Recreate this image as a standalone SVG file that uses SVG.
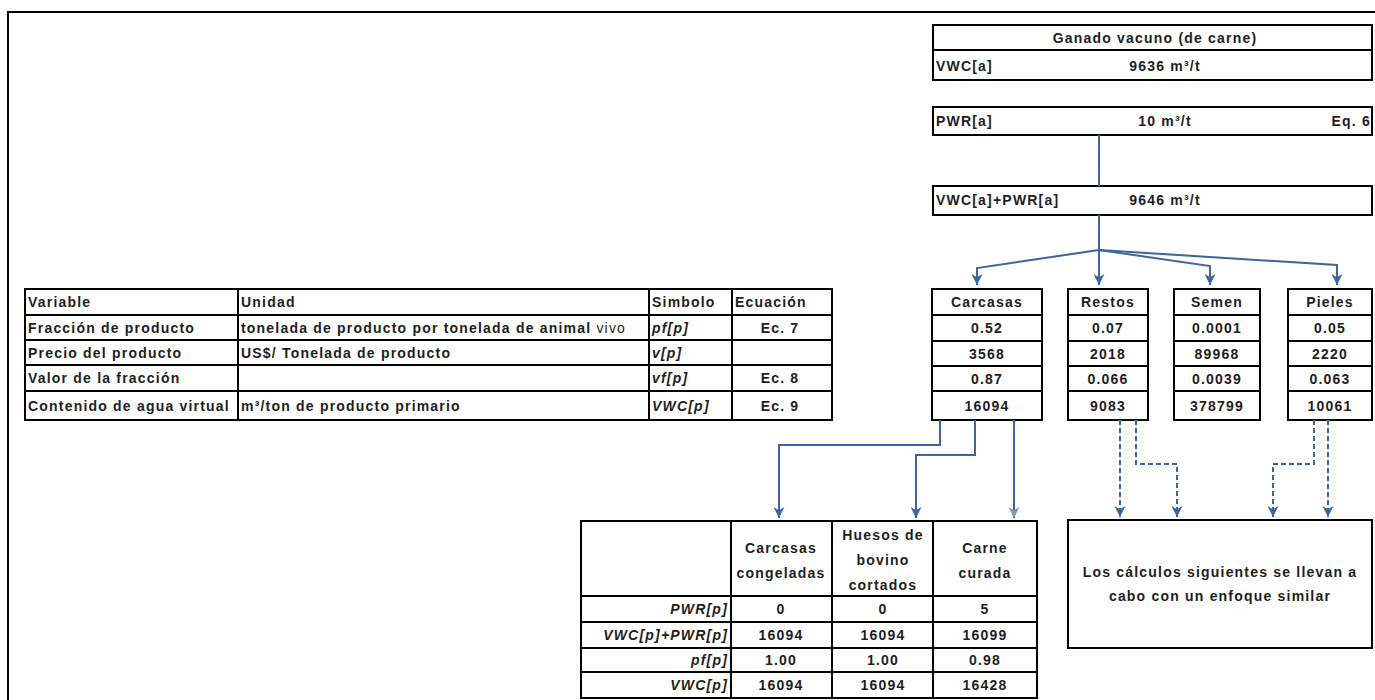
<svg xmlns="http://www.w3.org/2000/svg" width="1375" height="700" viewBox="0 0 1375 700">
<style>
.t{font-family:"Liberation Sans",Arial,sans-serif;font-weight:bold;font-size:14px;letter-spacing:1.2px;fill:#1e1e1e;dominant-baseline:central}
.c{text-anchor:middle}
.r{text-anchor:end}
.i{font-style:italic}
.n{font-weight:normal}
.box{fill:#fff;stroke:#000;stroke-width:2}
.ln{stroke:#000;stroke-width:2;fill:none}
.cn{fill:none;stroke:#3d65a0;stroke-width:2}
.dash{stroke-dasharray:5,3}
</style>
<defs>
<marker id="ah" viewBox="0 0 10 10" refX="10" refY="5" markerWidth="11" markerHeight="11" markerUnits="userSpaceOnUse" orient="auto">
<path d="M0,0 L10,5 L0,10 L3,5 z" fill="#3d65a0"/>
</marker>
<marker id="ah2" viewBox="0 0 10 10" refX="10" refY="5" markerWidth="11" markerHeight="11" markerUnits="userSpaceOnUse" orient="auto">
<path d="M0,0 L10,5 L0,10 L3,5 z" fill="#7f98c0"/>
</marker>
</defs>
<rect width="1375" height="700" fill="#fff"/>
<path class="ln" d="M8,701 V12 H1376"/>

<g id="ganado">
<rect class="box" x="933" y="25" width="439" height="55"/>
<line class="ln" x1="933" y1="50" x2="1372" y2="50"/>
<text class="t c" x="1155" y="38">Ganado vacuno (de carne)</text>
<text class="t" x="936" y="66">VWC[a]</text>
<text class="t c" x="1165" y="66">9636 m³/t</text>
</g>
<g id="pwr">
<rect class="box" x="933" y="107" width="439" height="28"/>
<text class="t" x="936" y="121">PWR[a]</text>
<text class="t c" x="1165" y="121">10 m³/t</text>
<text class="t r" x="1371" y="121">Eq. 6</text>
</g>
<g id="vwcpwr">
<rect class="box" x="933" y="186" width="439" height="29"/>
<text class="t" x="936" y="200">VWC[a]+PWR[a]</text>
<text class="t c" x="1165" y="200">9646 m³/t</text>
</g>

<g id="tabla-variables">
<rect class="box" x="25" y="289" width="807" height="131"/>
<path class="ln" d="M25,315 H832 M25,340 H832 M25,365 H832 M25,391 H832 M238,289 V420 M649,289 V420 M732,289 V420"/>
<text class="t" x="28" y="302">Variable</text>
<text class="t" x="241" y="302">Unidad</text>
<text class="t" x="652" y="302">Simbolo</text>
<text class="t" x="735" y="302">Ecuación</text>
<text class="t" x="28" y="327.5">Fracción de producto</text>
<text class="t" x="241" y="327.5">tonelada de producto por tonelada de animal <tspan class="n">vivo</tspan></text>
<text class="t i" x="652" y="327.5">pf[p]</text>
<text class="t c" x="780" y="327.5">Ec. 7</text>
<text class="t" x="28" y="352.5">Precio del producto</text>
<text class="t" x="241" y="352.5">US$/ Tonelada de producto</text>
<text class="t i" x="652" y="352.5">v[p]</text>
<text class="t" x="28" y="378">Valor de la fracción</text>
<text class="t i" x="652" y="378">vf[p]</text>
<text class="t c" x="780" y="378">Ec. 8</text>
<text class="t" x="28" y="405.5">Contenido de agua virtual</text>
<text class="t" x="241" y="405.5">m³/ton de producto primario</text>
<text class="t i" x="652" y="405.5">VWC[p]</text>
<text class="t c" x="780" y="405.5">Ec. 9</text>
</g>

<g id="carcasas">
<rect class="box" x="932" y="289" width="110" height="131"/>
<path class="ln" d="M932,315 H1042 M932,341 H1042 M932,366 H1042 M932,391 H1042"/>
<text class="t c" x="987" y="302">Carcasas</text>
<text class="t c" x="987" y="328">0.52</text>
<text class="t c" x="987" y="353.5">3568</text>
<text class="t c" x="987" y="378.5">0.87</text>
<text class="t c" x="987" y="405.5">16094</text>
</g>
<g id="restos">
<rect class="box" x="1068" y="289" width="80" height="131"/>
<path class="ln" d="M1068,315 H1148 M1068,341 H1148 M1068,366 H1148 M1068,391 H1148"/>
<text class="t c" x="1108" y="302">Restos</text>
<text class="t c" x="1108" y="328">0.07</text>
<text class="t c" x="1108" y="353.5">2018</text>
<text class="t c" x="1108" y="378.5">0.066</text>
<text class="t c" x="1108" y="405.5">9083</text>
</g>
<g id="semen">
<rect class="box" x="1174" y="289" width="86" height="131"/>
<path class="ln" d="M1174,315 H1260 M1174,341 H1260 M1174,366 H1260 M1174,391 H1260"/>
<text class="t c" x="1217" y="302">Semen</text>
<text class="t c" x="1217" y="328">0.0001</text>
<text class="t c" x="1217" y="353.5">89968</text>
<text class="t c" x="1217" y="378.5">0.0039</text>
<text class="t c" x="1217" y="405.5">378799</text>
</g>
<g id="pieles">
<rect class="box" x="1288" y="289" width="84" height="131"/>
<path class="ln" d="M1288,315 H1372 M1288,341 H1372 M1288,366 H1372 M1288,391 H1372"/>
<text class="t c" x="1330" y="302">Pieles</text>
<text class="t c" x="1330" y="328">0.05</text>
<text class="t c" x="1330" y="353.5">2220</text>
<text class="t c" x="1330" y="378.5">0.063</text>
<text class="t c" x="1330" y="405.5">10061</text>
</g>

<g id="tabla-productos">
<rect class="box" x="581" y="521" width="456" height="177"/>
<path class="ln" d="M581,596 H1037 M581,622 H1037 M581,648 H1037 M581,672 H1037 M731,521 V698 M832,521 V698 M933,521 V698"/>
<text class="t c" x="781" y="548">Carcasas</text>
<text class="t c" x="781" y="573">congeladas</text>
<text class="t c" x="883" y="535">Huesos de</text>
<text class="t c" x="883" y="560">bovino</text>
<text class="t c" x="883" y="585">cortados</text>
<text class="t c" x="985" y="548">Carne</text>
<text class="t c" x="985" y="573">curada</text>
<text class="t i r" x="728" y="609">PWR[p]</text>
<text class="t i r" x="728" y="635">VWC[p]+PWR[p]</text>
<text class="t i r" x="728" y="660">pf[p]</text>
<text class="t i r" x="728" y="685">VWC[p]</text>
<text class="t c" x="781" y="609">0</text>
<text class="t c" x="883" y="609">0</text>
<text class="t c" x="985" y="609">5</text>
<text class="t c" x="781" y="635">16094</text>
<text class="t c" x="883" y="635">16094</text>
<text class="t c" x="985" y="635">16099</text>
<text class="t c" x="781" y="660">1.00</text>
<text class="t c" x="883" y="660">1.00</text>
<text class="t c" x="985" y="660">0.98</text>
<text class="t c" x="781" y="685">16094</text>
<text class="t c" x="883" y="685">16094</text>
<text class="t c" x="985" y="685">16428</text>
</g>

<g id="nota">
<rect class="box" x="1068" y="520" width="304" height="128"/>
<text class="t c" x="1220" y="572">Los cálculos siguientes se llevan a</text>
<text class="t c" x="1220" y="596">cabo con un enfoque similar</text>
</g>

<g id="conectores">
<path class="cn" d="M1099,135 V186"/>
<path class="cn" d="M1099,215 V250"/>
<path class="cn" d="M1099,250 L977,268 V285" marker-end="url(#ah)"/>
<path class="cn" d="M1099,250 V285" marker-end="url(#ah)"/>
<path class="cn" d="M1099,250 L1210,266 V285" marker-end="url(#ah)"/>
<path class="cn" d="M1099,250 L1337,265 V285" marker-end="url(#ah)"/>
<path class="cn" d="M940,420 V445 H779 V518" marker-end="url(#ah)"/>
<path class="cn" d="M975,420 V455 H916 V518" stroke="#5578ad" marker-end="url(#ah)"/>
<path class="cn" d="M1014,420 V518" stroke="#7f98c0" marker-end="url(#ah2)"/>
<path class="cn dash" d="M1120,420 V517" marker-end="url(#ah)"/>
<path class="cn dash" d="M1136,420 V464 H1177 V517" marker-end="url(#ah)"/>
<path class="cn dash" d="M1314,420 V464 H1273 V517" marker-end="url(#ah)"/>
<path class="cn dash" d="M1328,420 V517" marker-end="url(#ah)"/>
</g>
</svg>
